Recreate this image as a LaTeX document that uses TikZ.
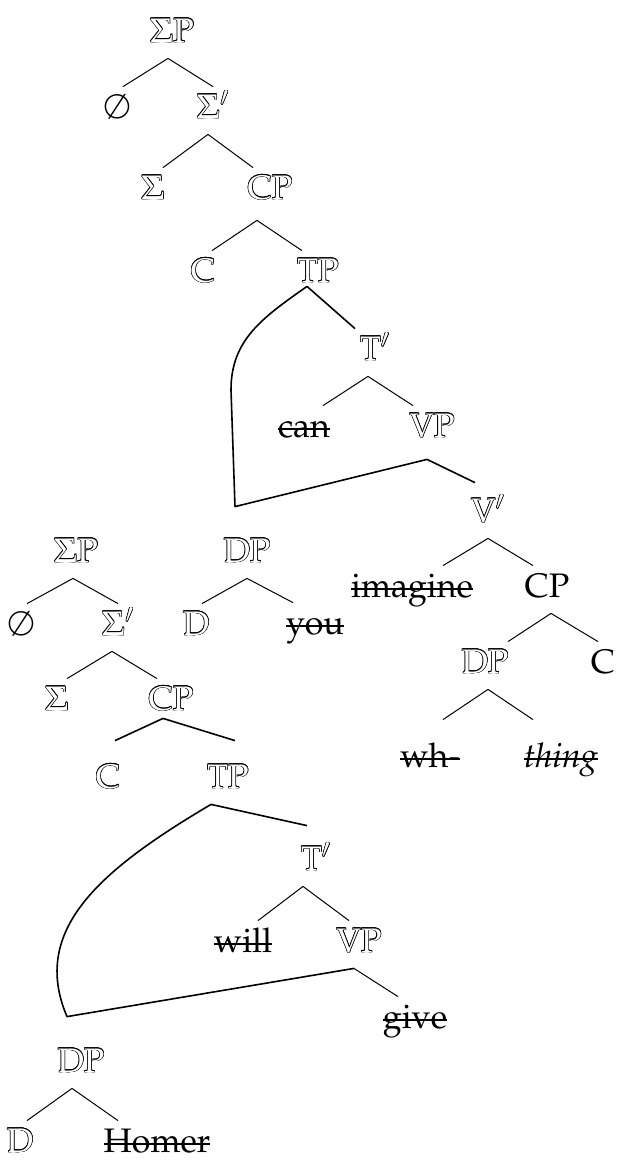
\documentclass[tikz,border=0pt]{standalone}
\usepackage[T1]{fontenc}
\usepackage{mathpazo}
\usepackage{tikz}

% hollow letters: black copies round a white copy
\newcommand{\outl}[1]{{\setbox0=\hbox{#1}%
  \foreach \ang in {0,30,...,330}{%
    \pgfmathsetlengthmacro{\dx}{0.3pt*cos(\ang)}%
    \pgfmathsetlengthmacro{\dy}{0.3pt*sin(\ang)}%
    \rlap{\hskip\dx\raise\dy\copy0}}%
  \textcolor{white}{\copy0}}}
% struck-out words
\newcommand{\strk}[1]{{\setbox0=\hbox{#1}%
  \rlap{\copy0}\rule[0.22em]{\wd0}{0.8pt}}}

\tikzset{
  lbl/.style={anchor=base, inner sep=2pt, text height=13.5pt, text depth=6pt,
    font=\fontsize{17}{20}\selectfont},
  br/.style={line width=0.5pt},
  mv/.style={line width=0.8pt, line join=round},
}

\begin{document}
\begin{tikzpicture}[x=0.5pt, y=-0.5pt]
  \useasboundingbox (0,0) rectangle (621,1163);

  % upper tree
  \node[lbl] (sp1) at (172,42) {\outl{$\Sigma$P}};
  \node[lbl] (o1) at (117,118) {$\emptyset$};
  \node[lbl] (sb1) at (213,118) {\outl{$\Sigma'$}};
  \node[lbl] (s1) at (153,199) {\outl{$\Sigma$}};
  \node[lbl, text depth=8.5pt] (cp1) at (270,199) {\outl{CP}};
  \node[lbl] (c1) at (203,282) {\outl{C}};
  \node[lbl, text depth=0pt] (tp1) at (318,282) {\outl{TP}};
  \node[lbl] (tb1) at (375,360) {\outl{T$'$}};
  \node[lbl] (can) at (304,437) {\strk{can}};
  \node[lbl, text depth=9pt] (vp1) at (432,437) {\outl{VP}};
  \node[lbl, text height=17.5pt] (vb1) at (488,522) {\outl{V$'$}};
  \node[lbl] (imag) at (412,597) {\strk{imagine}};
  \node[lbl] (cp2) at (547,597) {CP};
  \node[lbl] (dp1) at (485,673) {\outl{DP}};
  \node[lbl] (c2) at (603,673) {C};
  \node[lbl, text height=21.5pt] (wh) at (430,767) {\strk{wh-}};
  \node[lbl, text height=21.5pt] (thing) at (561,767) {\strk{\textit{thing}}};

  % moved subject
  \node[lbl, text height=25.5pt] (dpa) at (247,562) {\outl{DP}};
  \node[lbl] (da) at (196,635) {\outl{D}};
  \node[lbl] (you) at (315,634) {\strk{you}};

  % lower tree
  \node[lbl] (sp2) at (76,562) {\outl{$\Sigma$P}};
  \node[lbl] (o2) at (21,635) {$\emptyset$};
  \node[lbl] (sb2) at (118,635) {\outl{$\Sigma'$}};
  \node[lbl] (s2) at (57,710) {\outl{$\Sigma$}};
  \node[lbl, text depth=2pt] (cp3) at (171,710) {\outl{CP}};
  \node[lbl, text height=21.5pt] (c3) at (108,788) {\outl{C}};
  \node[lbl, text height=21.5pt] (tp2) at (228,788) {\outl{TP}};
  \node[lbl, text height=20pt] (tb2) at (316,870) {\outl{T$'$}};
  \node[lbl] (will) at (243,952) {\strk{will}};
  \node[lbl] (vp2) at (359,952) {\outl{VP}};
  \node[lbl] (give) at (415,1028) {\strk{give}};
  \node[lbl, text height=25.5pt] (dp3) at (81,1072) {\outl{DP}};
  \node[lbl] (d3) at (20,1152) {\outl{D}};
  \node[lbl] (homer) at (157,1152) {\strk{Homer}};

  % branches, upper tree
  \draw[br] ([xshift=-2pt]sp1.south) -- ([xshift=3pt]o1.north);
  \draw[br] ([xshift=-2pt]sp1.south) -- (sb1.north);
  \draw[br] ([xshift=-2.5pt]sb1.south) -- ([xshift=5pt]s1.north);
  \draw[br] ([xshift=-2.5pt]sb1.south) -- ([xshift=-8.5pt]cp1.north);
  \draw[br] ([xshift=-6.5pt]cp1.south) -- ([xshift=4.5pt]c1.north);
  \draw[br] ([xshift=-6.5pt]cp1.south) -- ([xshift=-8pt]tp1.north);
  \draw[mv] ([xshift=-5.5pt]tp1.south) -- ([xshift=-10pt]tb1.north);
  \draw[br] ([xshift=-3.5pt]tb1.south) -- ([xshift=9.5pt]can.north);
  \draw[br] ([xshift=-3.5pt]tb1.south) -- ([xshift=-9.5pt]vp1.north);
  \draw[br] (vb1.south) -- ([xshift=15.5pt]imag.north);
  \draw[br] (vb1.south) -- ([xshift=-7pt]cp2.north);
  \draw[br] ([xshift=2pt]cp2.south) -- ([xshift=11.5pt]dp1.north);
  \draw[br] ([xshift=2pt]cp2.south) -- ([xshift=-2.5pt]c2.north);
  \draw[br] ([xshift=1.5pt]dp1.south) -- ([xshift=6.5pt]wh.north);
  \draw[br] ([xshift=1.5pt]dp1.south) -- ([xshift=-14pt]thing.north);

  % TP and VP both take the subject DP
  \draw[mv] ([xshift=-5.5pt]tp1.south) .. controls (262,318) and (231,340) ..
    (231,390) -- ([xshift=-6pt]dpa.north) -- ([xshift=-2.5pt]vp1.south)
    -- ([xshift=-6.5pt]vb1.north);
  \draw[br] (dpa.south) -- ([xshift=3pt]da.north);
  \draw[br] (dpa.south) -- ([xshift=-11pt]you.north);

  % branches, lower tree
  \draw[br] ([xshift=-1.5pt]sp2.south) -- ([xshift=3pt]o2.north);
  \draw[br] ([xshift=-1.5pt]sp2.south) -- (sb2.north);
  \draw[br] ([xshift=-3pt]sb2.south) -- ([xshift=5pt]s2.north);
  \draw[br] ([xshift=-3pt]sb2.south) -- ([xshift=-7pt]cp3.north);
  \draw[mv] ([xshift=-4pt]cp3.south) -- ([xshift=3.5pt]c3.north);
  \draw[mv] ([xshift=-4pt]cp3.south) -- ([xshift=3.5pt]tp2.north);
  \draw[mv] ([xshift=-8.5pt]tp2.south) -- ([xshift=-4.5pt]tb2.north);
  \draw[br] ([xshift=-6.5pt]tb2.south) -- ([xshift=7.5pt]will.north);
  \draw[br] ([xshift=-6.5pt]tb2.south) -- ([xshift=-5pt]vp2.north);
  \draw[mv] ([xshift=-8.5pt]tp2.south) .. controls (100,870) and (30,930) ..
    ([xshift=-7pt]dp3.north) -- ([xshift=-2.5pt]vp2.south);
  \draw[br] ([xshift=-2.5pt]vp2.south) -- ([xshift=-8.5pt]give.north);
  \draw[br] ([xshift=-4.5pt]dp3.south) -- ([xshift=3.5pt]d3.north);
  \draw[br] ([xshift=-4.5pt]dp3.south) -- ([xshift=-19.5pt]homer.north);

\end{tikzpicture}
\end{document}
